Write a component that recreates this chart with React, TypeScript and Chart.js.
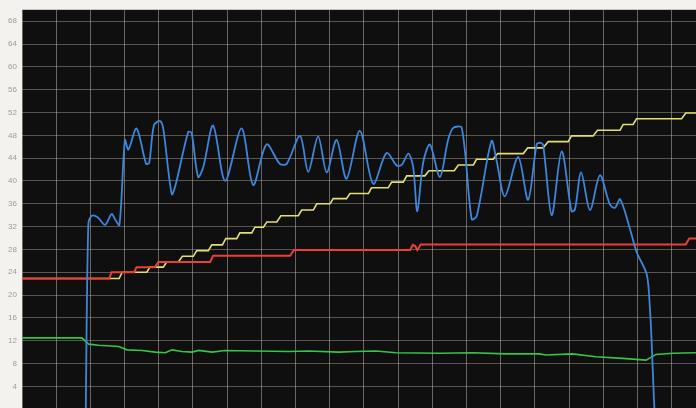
import React, { useEffect, useRef } from "react";
import { Chart, registerables } from "chart.js";

Chart.register(...registerables);

// Y-axis tick labels
const Y_TICKS = [4, 8, 12, 16, 20, 24, 28, 32, 36, 40, 44, 48, 52, 56, 60, 64, 68];
// vertical grid positions (time units)
const X_TICKS = [0, 1, 2, 3, 4, 5, 6, 7, 8, 9, 10, 11, 12, 13, 14, 15, 16, 17, 18, 19];

// Blue trace
const BLUE_X = [1.86, 1.94, 2.04, 2.22, 2.43, 2.62, 2.72, 2.85, 3.01, 3.11, 3.35, 3.63, 3.72, 3.86, 4.04, 4.13, 4.38, 4.5, 4.86, 4.96, 5.15, 5.3, 5.59, 5.94, 6.42, 6.76, 7.15, 7.54, 7.74, 8.13, 8.37, 8.66, 8.91, 9.2, 9.49, 9.88, 10.27, 10.66, 10.96, 11.1, 11.3, 11.44, 11.56, 11.73, 11.93, 12.22, 12.46, 12.61, 12.86, 13.15, 13.3, 13.73, 13.88, 14.12, 14.51, 14.8, 15.05, 15.15, 15.24, 15.49, 15.78, 16.07, 16.17, 16.35, 16.61, 16.9, 17.19, 17.34, 17.49, 17.78, 17.97, 18.27, 18.36, 18.41, 18.48, 18.52];
const BLUE_Y = [-3, 32.5, 33.9, 33.6, 32.3, 34.2, 33.3, 32.3, 47.2, 45.5, 49.2, 43, 43.2, 49.8, 50.5, 49.2, 37.7, 39.5, 48.6, 48.4, 40.7, 42.4, 49.7, 40, 49.2, 39.3, 46.4, 43, 43, 47.9, 41.6, 47.8, 41.5, 47.2, 40.4, 48.8, 39.5, 44.9, 42.7, 42.8, 44.8, 42.4, 34.7, 43.2, 46.4, 40.7, 47.2, 49.3, 49.3, 33.3, 33.9, 47, 43.5, 37.3, 44.2, 36.7, 46.4, 46.7, 46.3, 34, 45.2, 34.7, 35, 41.5, 34.9, 41, 35.9, 35.3, 36.8, 31.6, 27.6, 23.6, 17.9, 12.2, 1.8, -3];

// Red trace
const RED_X = [0, 2.55, 2.62, 3.28, 3.35, 3.89, 3.99, 5.5, 5.59, 7.84, 7.95, 11.35, 11.43, 11.5, 11.56, 11.66, 19.41, 19.51, 19.71];
const RED_Y = [22.9, 22.9, 24.0, 24.0, 24.9, 24.9, 25.8, 25.8, 26.9, 26.9, 27.9, 27.9, 28.8, 28.6, 27.9, 28.85, 28.85, 29.9, 29.9];

// Yellow staircase
const YEL_X = [0, 2.84, 2.93, 3.65, 3.74, 4.13, 4.23, 4.57, 4.69, 5.01, 5.11, 5.45, 5.55, 5.86, 5.96, 6.28, 6.37, 6.72, 6.81, 7.06, 7.16, 7.45, 7.57, 8.08, 8.18, 8.52, 8.62, 9.01, 9.1, 9.49, 9.59, 10.13, 10.22, 10.71, 10.81, 11.15, 11.25, 11.78, 11.9, 12.64, 12.76, 13.2, 13.29, 13.78, 13.91, 14.66, 14.79, 15.24, 15.39, 15.97, 16.07, 16.7, 16.83, 17.49, 17.58, 17.87, 17.97, 19.29, 19.41, 19.71];
const YEL_Y = [22.9, 22.9, 24.0, 24.0, 24.9, 24.9, 25.8, 25.8, 26.8, 26.8, 27.8, 27.8, 28.8, 28.8, 29.9, 29.9, 30.9, 30.9, 31.9, 31.9, 32.8, 32.8, 33.9, 33.9, 34.9, 34.9, 36.0, 36.0, 36.9, 36.9, 37.8, 37.8, 38.8, 38.8, 39.8, 39.8, 40.9, 40.9, 41.8, 41.8, 42.8, 42.8, 43.8, 43.8, 44.8, 44.8, 45.8, 45.8, 46.9, 46.9, 47.9, 47.9, 48.9, 48.9, 49.9, 49.9, 50.9, 50.9, 51.9, 51.9];

// Green trace
const GRN_X = [0, 1.75, 1.95, 2.24, 2.83, 3.07, 3.51, 3.9, 4.19, 4.39, 4.68, 4.97, 5.17, 5.56, 5.94, 6.82, 7.8, 8.38, 9.26, 9.75, 10.35, 10.94, 12.2, 13.18, 14.15, 15.13, 15.32, 16.1, 16.78, 17.56, 18.25, 18.54, 19.03, 19.71];
const GRN_Y = [12.5, 12.5, 11.4, 11.2, 11.0, 10.4, 10.3, 10.0, 9.9, 10.4, 10.1, 10.0, 10.3, 10.0, 10.3, 10.2, 10.1, 10.2, 10.0, 10.1, 10.2, 9.9, 9.8, 9.9, 9.7, 9.7, 9.5, 9.7, 9.2, 8.9, 8.6, 9.6, 9.8, 9.9];

const zip = (xs: number[], ys: number[]) => xs.map((x, i) => ({ x, y: ys[i] }));

const bgPlugin = {
  id: "bg",
  beforeDraw(chart: any) {
    const { ctx, chartArea, width, height } = chart;
    ctx.save();
    ctx.fillStyle = "#f4f2ee";
    ctx.fillRect(0, 0, width, height);
    ctx.fillStyle = "#100f0f";
    ctx.fillRect(chartArea.left, chartArea.top, chartArea.right - chartArea.left, chartArea.bottom - chartArea.top);
    ctx.restore();
  },
};

export default function App() {
  const ref = useRef<HTMLCanvasElement>(null);
  useEffect(() => {
    const chart = new Chart(ref.current!, {
      type: "line",
      data: {
        datasets: [
          { data: zip(BLUE_X, BLUE_Y), borderColor: "#3d86dc", borderWidth: 1.8, pointRadius: 0, tension: 0.3, order: 0 },
          { data: zip(RED_X, RED_Y), borderColor: "#ec3f38", borderWidth: 2, pointRadius: 0, tension: 0, order: 1 },
          { data: zip(YEL_X, YEL_Y), borderColor: "#e3df72", borderWidth: 1.6, pointRadius: 0, tension: 0, order: 2 },
          { data: zip(GRN_X, GRN_Y), borderColor: "#36c44a", borderWidth: 1.6, pointRadius: 0, tension: 0, order: 3 },
        ] as any,
      },
      options: {
        animation: false,
        responsive: false,
        maintainAspectRatio: false,
        events: [],
        layout: { padding: { top: 8, right: 0, bottom: 0, left: 0 } },
        plugins: { legend: { display: false }, tooltip: { enabled: false } },
        scales: {
          x: {
            type: "linear",
            min: 0,
            max: 19.71,
            afterBuildTicks: (s: any) => { s.ticks = X_TICKS.map((v) => ({ value: v })); },
            afterFit: (s: any) => { s.height = 0; },
            ticks: { display: false },
            border: { display: false },
            grid: { color: "rgba(200,190,180,0.5)", lineWidth: 1, drawTicks: false },
          },
          y: {
            type: "linear",
            min: 0,
            max: 70,
            afterBuildTicks: (s: any) => { s.ticks = Y_TICKS.map((v) => ({ value: v })); },
            afterFit: (s: any) => { s.width = 22; },
            ticks: { color: "#9c9c9c", font: { family: "Liberation Sans", size: 8 }, padding: 5 },
            border: { display: false },
            grid: { color: "rgba(200,190,180,0.4)", lineWidth: 1, drawTicks: false },
          },
        },
      } as any,
      plugins: [bgPlugin],
    });
    return () => chart.destroy();
  }, []);
  return (
    <div style={{ position: "fixed", left: 0, top: 0, width: 696, height: 408, overflow: "hidden" }}>
      <canvas ref={ref} width={696} height={419} style={{ display: "block", width: 696, height: 419 }} />
    </div>
  );
}
